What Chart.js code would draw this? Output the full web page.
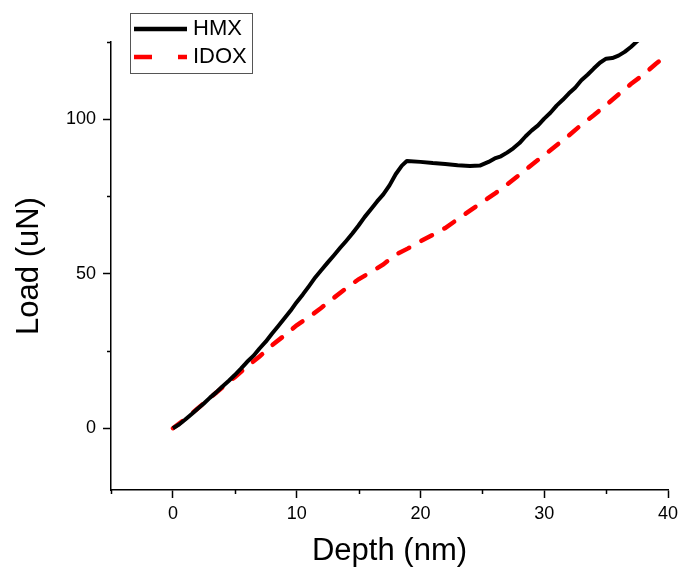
<!DOCTYPE html>
<html>
<head>
<meta charset="utf-8">
<script src="https://cdn.jsdelivr.net/npm/chart.js@4/dist/chart.umd.min.js"></script>
<style>
  html, body { margin: 0; padding: 0; background: #fff; }
  #wrap { width: 681px; height: 572px; }
</style>
</head>
<body>
<div id="wrap"><canvas id="loadChart" width="681" height="572"></canvas></div>
<script>
// ---- DATA ----
const hmxDepth = [0, 0.5, 1, 1.5, 2, 2.5, 3, 3.5, 4, 4.5, 5, 5.5, 6, 6.5, 7, 7.5, 8, 8.5, 9, 9.5,
  10, 10.5, 11, 11.5, 12, 12.5, 13, 13.5, 14, 14.5, 15, 15.5, 16, 16.5, 17, 17.5, 18, 18.5, 18.9,
  20, 21, 22, 23, 24, 24.8, 25.5, 26, 26.5, 27, 27.5, 28, 28.5, 29, 29.5, 30, 30.5, 31, 31.5,
  32, 32.5, 33, 33.5, 34, 34.5, 35, 35.5, 36, 36.5, 37, 37.5, 38];
const hmxLoad = [0, 1.2, 2.8, 4.5, 6.3, 8.0, 9.9, 11.6, 13.5, 15.3, 17.2, 19.3, 21.5, 23.4, 25.8, 28.0, 30.6, 33.0, 35.5, 38.0,
  40.8, 43.3, 46.0, 48.8, 51.2, 53.6, 55.9, 58.3, 60.6, 63.0, 65.6, 68.4, 70.9, 73.4, 75.7, 78.6, 82.2, 85.0, 86.5,
  86.2, 85.8, 85.5, 85.1, 84.9, 85.0, 86.2, 87.3, 88.0, 89.2, 90.6, 92.3, 94.5, 96.4, 98.0, 100.2, 102.1, 104.4, 106.3,
  108.4, 110.2, 112.6, 114.4, 116.4, 118.3, 119.6, 119.8, 120.6, 121.8, 123.4, 125.2, 127.0];

const idoxDepth = [0, 1, 2, 3, 4, 5, 6, 7, 8, 9, 10, 11, 12, 13, 14, 15, 16, 17, 18, 19, 20,
  21, 22, 23, 24, 25, 26, 27, 28, 29, 30, 31, 32, 33, 34, 35, 36, 37, 38, 39, 40];
const idoxLoad = [0, 3.0, 6.4, 9.8, 13.2, 16.5, 20.0, 23.2, 26.8, 30.0, 33.3, 36.0, 39.0, 42.2, 45.3, 48.2, 50.5, 53.0, 56.2, 58.2, 60.5,
  62.6, 64.8, 67.6, 70.4, 73.2, 75.9, 78.9, 82.0, 85.3, 88.4, 91.6, 94.8, 98.2, 101.3, 104.6, 108.0, 111.4, 114.4, 117.9, 121.0];

const seriesNames = ["HMX", "IDOX"];
const xMajor = [0, 10, 20, 30, 40];
const yMajor = [0, 50, 100];

const toPoints = (xs, ys) => xs.map((x, i) => ({ x, y: ys[i] }));

// ---- LEGEND + MINOR TICKS ----
const extras = {
  id: "extras",
  afterDraw(chart) {
    const c = chart.ctx;
    const xs = chart.scales.x, ys = chart.scales.y;
    c.save();
    c.strokeStyle = "#000";
    c.lineWidth = 1.5;
    // minor ticks
    xs.ticks.forEach(t => {
      if (xMajor.includes(t.value)) return;
      const px = Math.round(xs.getPixelForValue(t.value)) + 0.5;
      c.beginPath(); c.moveTo(px, xs.top); c.lineTo(px, xs.top + 4); c.stroke();
    });
    ys.ticks.forEach(t => {
      if (yMajor.includes(t.value) || t.value < 0) return;
      const py = Math.round(ys.getPixelForValue(t.value)) + 0.5;
      c.beginPath(); c.moveTo(ys.right, py); c.lineTo(ys.right - 4, py); c.stroke();
    });

    // legend box
    c.lineWidth = 1;
    c.strokeStyle = "#555";
    c.strokeRect(130.5, 13.5, 122, 60);
    c.font = "22px 'Liberation Sans', Arial, sans-serif";
    c.textBaseline = "middle";
    c.fillStyle = "#000";
    chart.data.datasets.forEach((ds, i) => {
      const y = 29 + i * 28;
      c.beginPath();
      c.strokeStyle = ds.borderColor;
      c.lineWidth = 4.5;
      c.lineCap = "butt";
      c.setLineDash(i === 0 ? [] : [18, 26]);
      c.moveTo(134, y); c.lineTo(187, y); c.stroke();
      c.setLineDash([]);
      c.fillText(ds.label, 193, y);
    });
    c.restore();
  }
};

// ---- CHART ----
const ctx = document.getElementById("loadChart").getContext("2d");
const chart = new Chart(ctx, {
  type: "line",
  data: {
    datasets: [
      { label: seriesNames[0], data: toPoints(hmxDepth, hmxLoad), borderColor: "#000000",
        borderWidth: 4, pointRadius: 0, tension: 0, borderJoinStyle: "round" },
      { label: seriesNames[1], data: toPoints(idoxDepth, idoxLoad), borderColor: "#ff0000",
        borderWidth: 4.5, borderDash: [12, 14], borderCapStyle: "round", pointRadius: 0, tension: 0 }
    ]
  },
  options: {
    responsive: false,
    animation: false,
    layout: { padding: { left: 11, right: 13, top: 42, bottom: 2 } },
    plugins: { legend: { display: false }, tooltip: { enabled: false } },
    scales: {
      x: {
        type: "linear", min: -5, max: 40,
        afterFit: s => { s.height = 80; s.paddingLeft = 0; s.paddingRight = 0; },
        ticks: {
          stepSize: 5, color: "#000", padding: 5,
          font: { family: "'Liberation Sans', Arial, sans-serif", size: 18 },
          maxRotation: 0, autoSkip: false,
          callback: v => xMajor.includes(v) ? String(v) : ""
        },
        grid: {
          drawOnChartArea: false, tickLength: 8, tickWidth: 1.5,
          tickColor: c => (c.tick && xMajor.includes(c.tick.value)) ? "#000" : "rgba(0,0,0,0)"
        },
        border: { color: "#000", width: 1.5 },
        title: {
          display: true, text: "Depth (nm)", color: "#000", padding: 0,
          font: { family: "'Liberation Sans', Arial, sans-serif", size: 31 }
        }
      },
      y: {
        min: -20, max: 125,
        afterFit: s => { s.width = 100; s.paddingTop = 0; s.paddingBottom = 0; },
        ticks: {
          stepSize: 25, color: "#000", padding: 7,
          font: { family: "'Liberation Sans', Arial, sans-serif", size: 18 },
          autoSkip: false,
          callback: v => yMajor.includes(v) ? String(v) : ""
        },
        grid: {
          drawOnChartArea: false, tickLength: 8, tickWidth: 1.5,
          tickColor: c => (c.tick && yMajor.includes(c.tick.value)) ? "#000" : "rgba(0,0,0,0)"
        },
        border: { color: "#000", width: 1.5 },
        title: {
          display: true, text: "Load (uN)", color: "#000", padding: 0,
          font: { family: "'Liberation Sans', Arial, sans-serif", size: 31 }
        }
      }
    }
  },
  plugins: [extras]
});
</script>
</body>
</html>
